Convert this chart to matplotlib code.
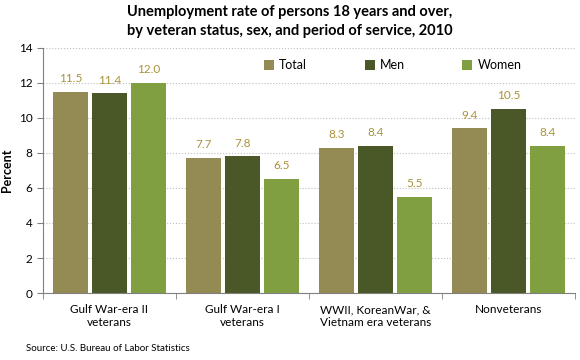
import numpy as np
import matplotlib as mpl
import matplotlib.pyplot as plt

mpl.rcParams['font.family'] = 'sans-serif'
mpl.rcParams['font.sans-serif'] = ['Lato', 'DejaVu Sans']
mpl.rcParams['font.size'] = 8.5
mpl.rcParams['axes.spines.right'] = False
mpl.rcParams['axes.spines.top'] = False

categories = ["Gulf War-era II\nveterans", "Gulf War-era I\nveterans",
              "WWII, KoreanWar, &\nVietnam era veterans", "Nonveterans"]
total = [11.5, 7.7, 8.3, 9.4]
men = [11.4, 7.8, 8.4, 10.5]
women = [12.0, 6.5, 5.5, 8.4]
series_names = ["Total", "Men", "Women"]
colors = ["#948A54", "#4A5727", "#7F9F40"]

fig = plt.figure(figsize=(5.8, 3.6), dpi=100)
ax = fig.add_axes([0.074, 0.186, 0.917, 0.681])

x = np.arange(len(categories))
width = 0.265
offset = 0.293
for i, (vals, name, c) in enumerate(zip([total, men, women], series_names, colors)):
    pos = x + (i - 1) * offset
    bars = ax.bar(pos, vals, width, color=c, label=name, zorder=2)
    for b, v in zip(bars, vals):
        ax.text(b.get_x() + b.get_width() / 2, v + 0.45, f"{v:.1f}",
                ha='center', va='bottom', fontsize=8.5, color="#A8933A")

ax.set_xlim(-0.5, len(categories) - 0.5)
ax.set_ylim(0, 14)
ax.set_yticks(np.arange(0, 15, 2))
ax.yaxis.grid(True, linestyle=':', color='#bfbfbf', linewidth=0.8, zorder=0)
ax.set_xticks(x)
ax.set_xticklabels(categories, fontsize=8.5)
ax.tick_params(axis='x', length=0, pad=8)
ax.set_xticks(np.arange(-0.5, len(categories)), minor=True)
ax.tick_params(axis='x', which='minor', length=4, color='#808080')
ax.tick_params(axis='y', length=4, color='#808080')
for s in ['left', 'bottom']:
    ax.spines[s].set_color('#808080')

ax.set_ylabel("Percent", fontweight='bold', fontsize=9)

ax.legend(ncol=3, loc='upper left', bbox_to_anchor=(0.395, 1.0), frameon=False,
          handlelength=0.8, handleheight=0.8, columnspacing=4.6, handletextpad=0.4,
          fontsize=9)

fig.suptitle("Unemployment rate of persons 18 years and over,\nby veteran status, sex, and period of service, 2010",
             x=0.5, y=0.985, fontweight='bold', fontsize=10.5, linespacing=1.4)
fig.text(0.045, 0.025, "Source: U.S. Bureau of Labor Statistics", fontsize=7)

fig.savefig("out.png", dpi=100)
